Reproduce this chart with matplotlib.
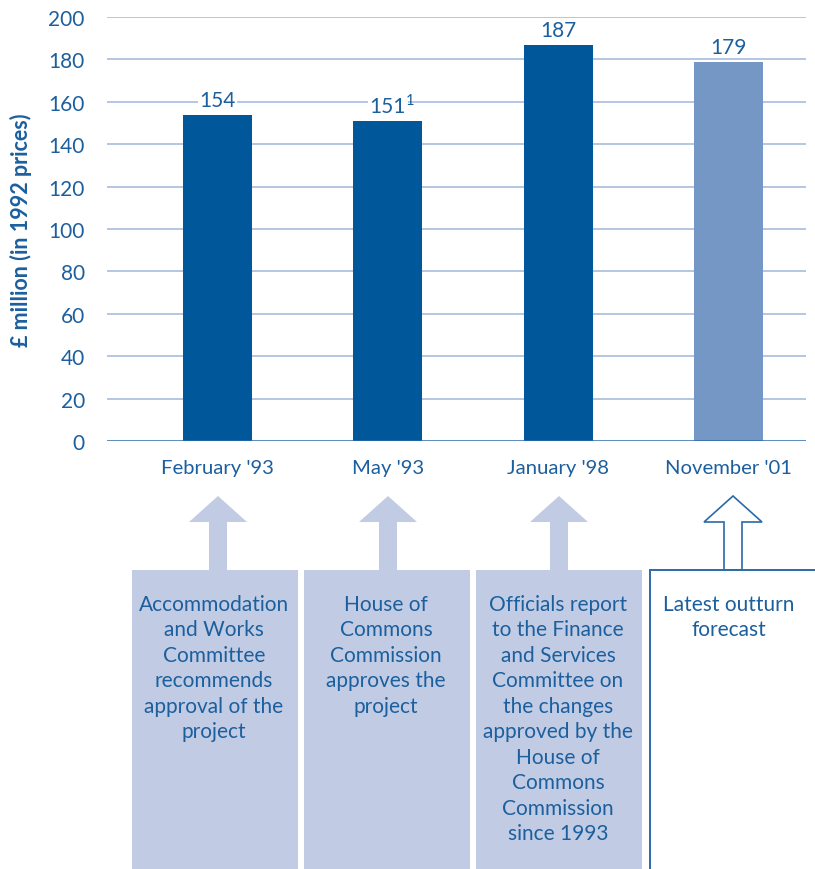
import matplotlib.pyplot as plt
from matplotlib.patches import Polygon, Rectangle

# data
dates = ["February '93", "May '93", "January '98", "November '01"]
costs = [154, 151, 187, 179]
footnotes = ["", "1", "", ""]
forecast = [False, False, False, True]
notes = [
    "Accommodation\nand Works\nCommittee\nrecommends\napproval of the\nproject",
    "House of\nCommons\nCommission\napproves the\nproject",
    "Officials report\nto the Finance\nand Services\nCommittee on\nthe changes\napproved by the\nHouse of\nCommons\nCommission\nsince 1993",
    "Latest outturn\nforecast",
]
y_ticks = list(range(0, 201, 20))

DARK = "#00589b"
LIGHT = "#7497c5"
GRID = "#a9bbdd"
TEXT = "#1c5f9e"
PALE = "#c1cce4"

plt.rcParams["font.family"] = ["Lato", "DejaVu Sans"]

fig = plt.figure(figsize=(8.15, 8.7), dpi=100)

# main chart
ax = fig.add_axes([107 / 815, 1 - 442 / 870, 699 / 815, 424 / 870])
x = list(range(len(dates)))
colors = [LIGHT if f else DARK for f in forecast]
ax.bar(x, costs, width=0.405, color=colors, zorder=3)
ax.set_xlim(-0.649, 3.455)
ax.set_ylim(0, 200)
ax.set_yticks(y_ticks)
for t in y_ticks[1:]:
    ax.axhline(t, color=GRID, lw=1.2, zorder=1)
ax.axhline(0, color="#2b6aa8", lw=1.8, zorder=4)
for s in ax.spines.values():
    s.set_visible(False)
ax.tick_params(axis="y", length=0, pad=16, labelsize=15, labelcolor=TEXT)
ax.tick_params(axis="x", length=0, pad=13, labelsize=14.6, labelcolor=TEXT)
ax.set_xticks(x)
ax.set_xticklabels(dates)
ax.set_ylabel("£ million (in 1992 prices)", fontsize=15.5, fontweight="bold",
              color=TEXT, labelpad=12)

for xi, v, fn in zip(x, costs, footnotes):
    ax.text(xi, v + 2.2, str(v), ha="center", va="bottom", fontsize=15,
            color=TEXT, zorder=5,
            bbox=dict(facecolor="white", edgecolor="none", pad=1.0))
    if fn:
        ax.text(xi + 0.105, v + 6.5, fn, ha="left", va="bottom", fontsize=10.5,
                color=TEXT, zorder=6)

# lower part: arrows and boxes, in pixel coordinates
ov = fig.add_axes([0, 0, 1, 1])
ov.set_xlim(0, 815)
ov.set_ylim(870, 0)
ov.axis("off")

box_left = [132, 304, 476, 650]
box_w = 166
arrow_cx = [218, 388, 559, 733]
box_top = 571
tip_y, head_y = 497, 523
head_half, shaft_half = 29, 9

for i, (bx, cx, note) in enumerate(zip(box_left, arrow_cx, notes)):
    pts = [(cx, tip_y), (cx + head_half, head_y), (cx + shaft_half, head_y),
           (cx + shaft_half, box_top), (cx - shaft_half, box_top),
           (cx - shaft_half, head_y), (cx - head_half, head_y)]
    if forecast[i]:
        ov.add_patch(Polygon(pts, closed=True, facecolor="white",
                             edgecolor="#2b6aa8", lw=1.2))
        ov.add_patch(Rectangle((bx, box_top), 200, 320, facecolor="white",
                               edgecolor="#2b6aa8", lw=1.4))
    else:
        ov.add_patch(Polygon(pts, closed=True, facecolor=PALE, edgecolor="none"))
        ov.add_patch(Rectangle((bx, box_top), box_w, 320, facecolor=PALE,
                               edgecolor="none"))
    ov.text(bx + box_w / 2 + (-1 if not forecast[i] else -4), 595, note,
            ha="center", va="top", fontsize=15, color=TEXT, linespacing=1.34)

fig.savefig("out.png", dpi=100)
